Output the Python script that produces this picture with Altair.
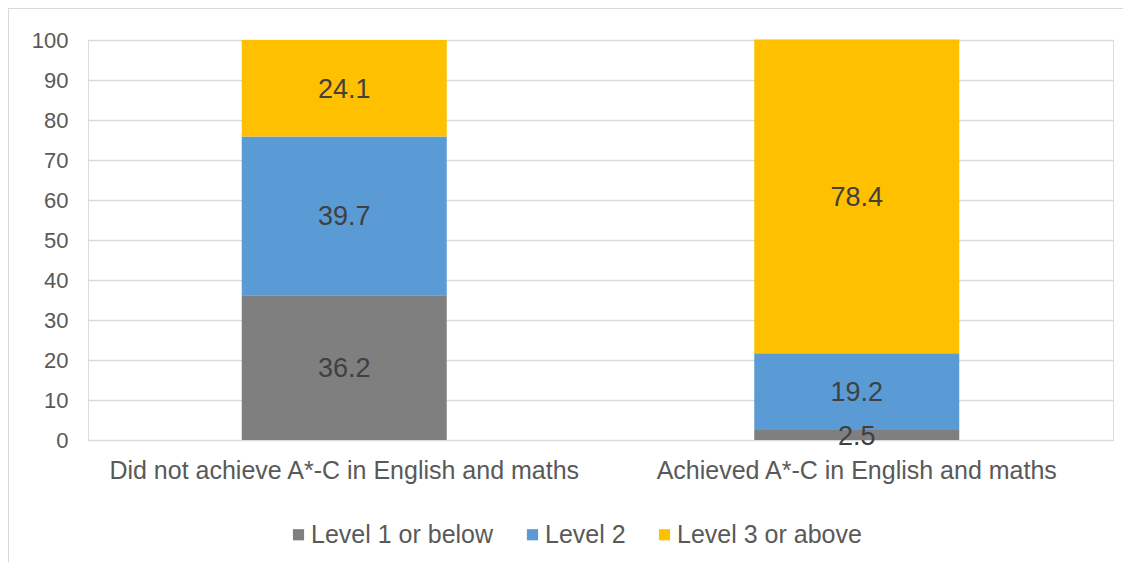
import altair as alt
import pandas as pd

categories = ["Did not achieve A*-C in English and maths", "Achieved A*-C in English and maths"]
levels = ["Level 1 or below", "Level 2", "Level 3 or above"]
level1 = [36.2, 2.5]
level2 = [39.7, 19.2]
level3 = [24.1, 78.4]
colors = ["#7f7f7f", "#5b9bd5", "#ffc000"]
yticks = [0, 10, 20, 30, 40, 50, 60, 70, 80, 90, 100]

rows = []
for i, c in enumerate(categories):
    for j, (lv, vals) in enumerate(zip(levels, [level1, level2, level3])):
        rows.append({"cat": c, "level": lv, "order": j, "value": vals[i]})
df = pd.DataFrame(rows)

FONT = "Liberation Sans"

base = alt.Chart(df).transform_stack(
    stack="value", groupby=["cat"], sort=[alt.SortField("order")], as_=["y0", "y1"]
).transform_calculate(mid="(datum.y0 + datum.y1) / 2")

xaxis = alt.Axis(labelAngle=0, ticks=False, tickSize=0, domain=False, labelPadding=18,
                 labelFontSize=25, labelColor="#595959", labelFont=FONT, labelLimit=600)
yaxis = alt.Axis(values=yticks, ticks=False, tickSize=0, domain=False,
                 labelOverlap=False, labelPadding=20, labelFontSize=22,
                 labelColor="#595959", labelFont=FONT,
                 grid=True, gridColor="#d9d9d9", gridWidth=1.3)
xscale = alt.Scale(paddingInner=0.6, paddingOuter=0.3)
yscale = alt.Scale(domain=[0, 100], nice=False)

bars = base.mark_bar().encode(
    x=alt.X("cat:N", sort=categories, title=None, scale=xscale, axis=xaxis),
    y=alt.Y("y0:Q", title=None, scale=yscale, axis=yaxis),
    y2="y1:Q",
    color=alt.Color("level:N", sort=levels, scale=alt.Scale(domain=levels, range=colors),
                    legend=alt.Legend(title=None, orient="none", direction="horizontal",
                                      legendX=198, legendY=482, symbolType="square", symbolSize=125,
                                      symbolStrokeWidth=0, labelFontSize=25, labelColor="#595959",
                                      labelFont=FONT, labelOffset=0, columnPadding=26, padding=0,
                                      labelLimit=400)),
)

labels = base.mark_text(fontSize=27, color="#404040", font=FONT, baseline="middle", dy=1.5).encode(
    x=alt.X("cat:N", sort=categories, title=None, scale=xscale, axis=xaxis),
    y=alt.Y("mid:Q", title=None, scale=yscale, axis=yaxis),
    text=alt.Text("value:Q", format=".1f"),
)

edge = pd.DataFrame({"a": [0]})
top_edge = alt.Chart(edge).mark_rule(color="#d9d9d9", strokeWidth=1).encode(
    x=alt.value(-80), x2=alt.value(1300), y=alt.value(-31.5)
)
left_edge = alt.Chart(edge).mark_rule(color="#d9d9d9", strokeWidth=1).encode(
    x=alt.value(-79.5), y=alt.value(-32), y2=alt.value(800)
)

chart = alt.layer(top_edge, left_edge, bars, labels).properties(
    width=1025, height=400,
    autosize=alt.AutoSizeParams(type="none"),
    padding={"left": 80, "top": 32, "right": 10, "bottom": 122},
).configure_view(stroke=None).configure(background="white")

chart.save("out.html", embed_options={"renderer": "svg", "actions": False})
